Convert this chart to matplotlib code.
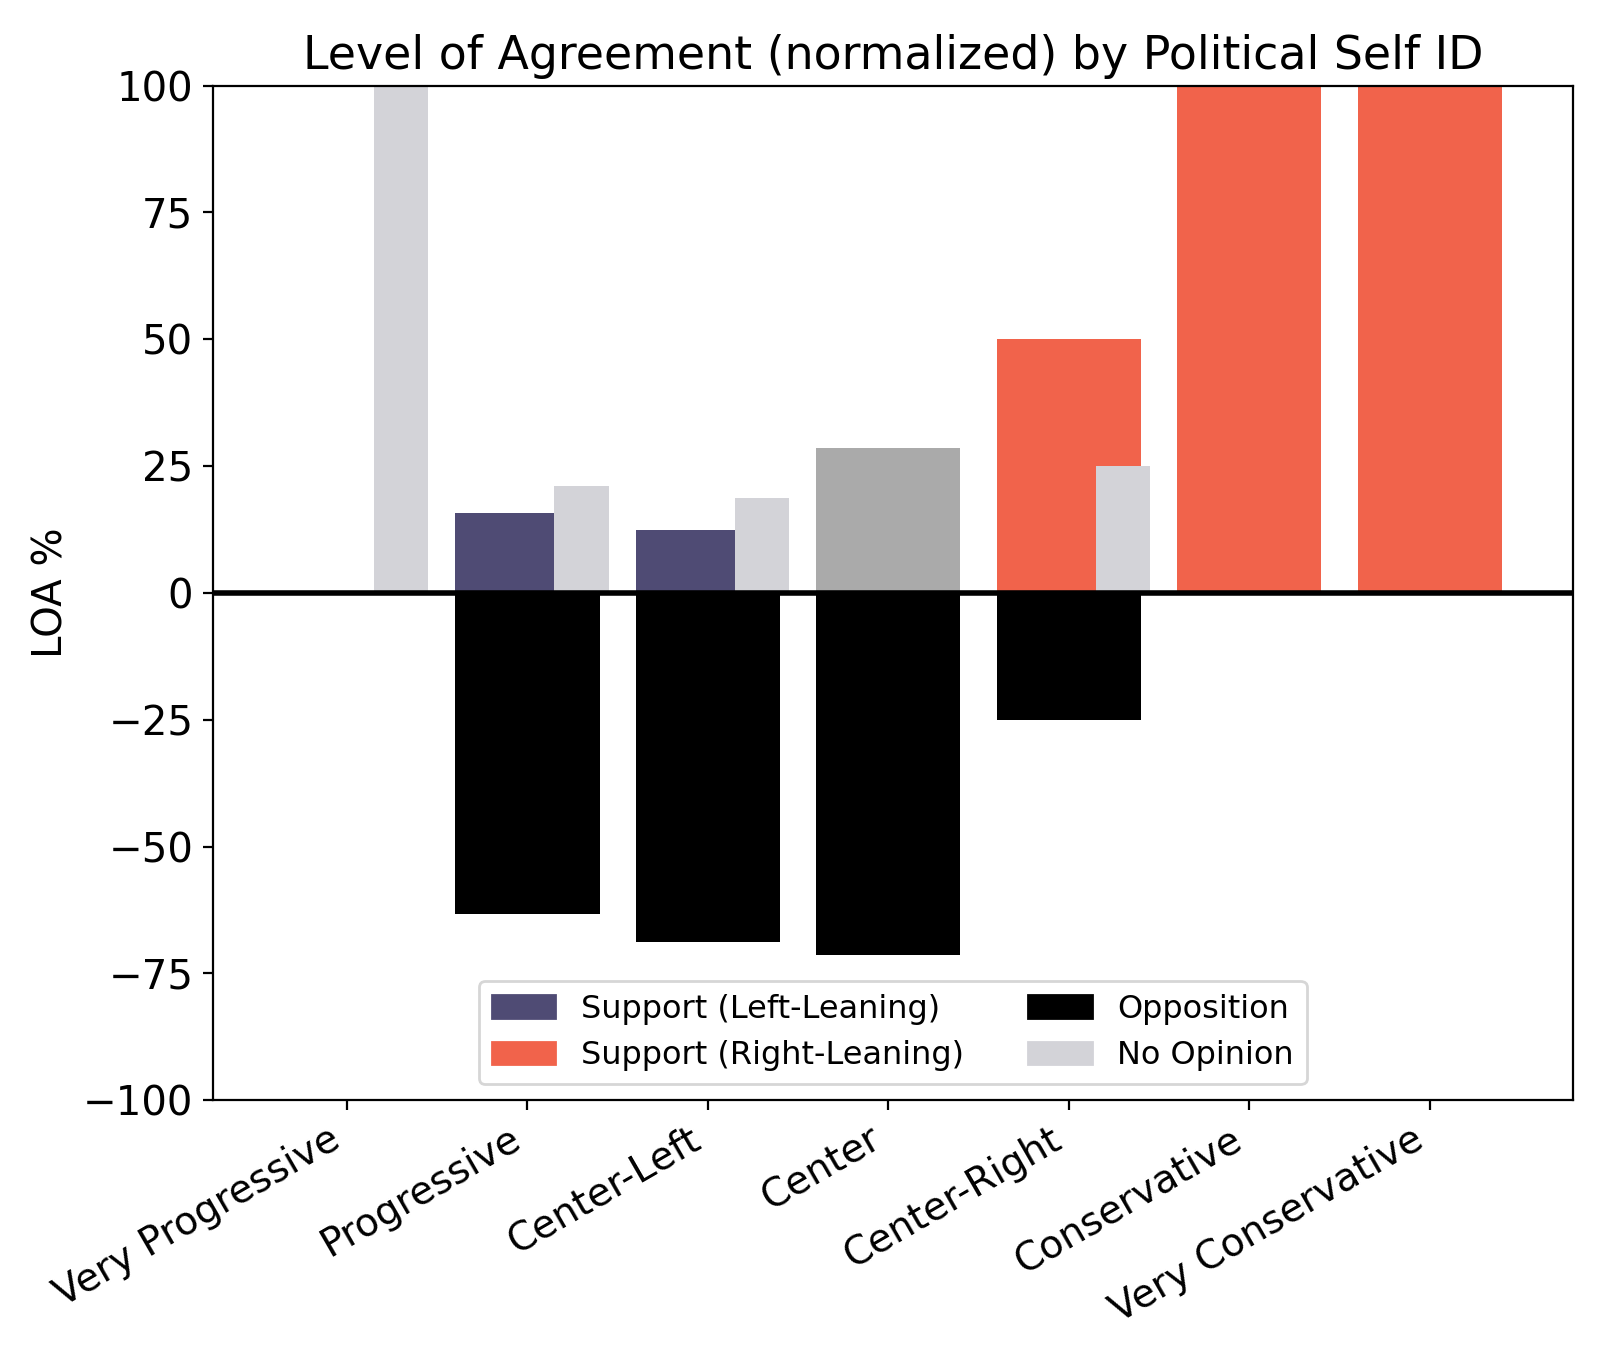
import numpy as np
from matplotlib import pyplot as plt
from matplotlib.patches import Patch

categories = ["Very Progressive", "Progressive", "Center-Left", "Center",
              "Center-Right", "Conservative", "Very Conservative"]
support = [0, 15.8, 12.5, 28.6, 50, 100, 100]
opposition = [0, -63.2, -68.75, -71.4, -25, 0, 0]
no_opinion = [100, 21.1, 18.75, 0, 25, 0, 0]
lean = ["left", "left", "left", "center", "right", "right", "right"]

lean_colors = {"left": "#4f4b74", "center": "#aaaaaa", "right": "#f1634b"}
opp_color = "black"
none_color = "#d3d3d8"

plt.rcParams["font.size"] = 14

fig, ax = plt.subplots(figsize=(8, 6.8), dpi=200)
fig.subplots_adjust(left=0.133, right=0.983, top=0.937, bottom=0.191)

x = np.arange(len(categories))
ax.bar(x, support, width=0.8, color=[lean_colors[l] for l in lean])
ax.bar(x, opposition, width=0.8, color=opp_color)
ax.bar(x + 0.3, no_opinion, width=0.3, color=none_color)
ax.axhline(0, color="black", lw=2)

ax.set_ylim(-100, 100)
ax.set_xticks(x)
ax.set_xticklabels(categories, rotation=30, ha="right", fontsize=14)
ax.tick_params(axis="y", labelsize=14.5)
ax.set_ylabel("LOA %", fontsize=14.5)
ax.set_title("Level of Agreement (normalized) by Political Self ID", fontsize=16.5)

handles = [Patch(color=lean_colors["left"], label="Support (Left-Leaning)"),
           Patch(color=lean_colors["right"], label="Support (Right-Leaning)"),
           Patch(color=opp_color, label="Opposition"),
           Patch(color=none_color, label="No Opinion")]
ax.legend(handles=handles, loc="lower center", ncol=2, fontsize=11.5)

plt.savefig("out.png")
